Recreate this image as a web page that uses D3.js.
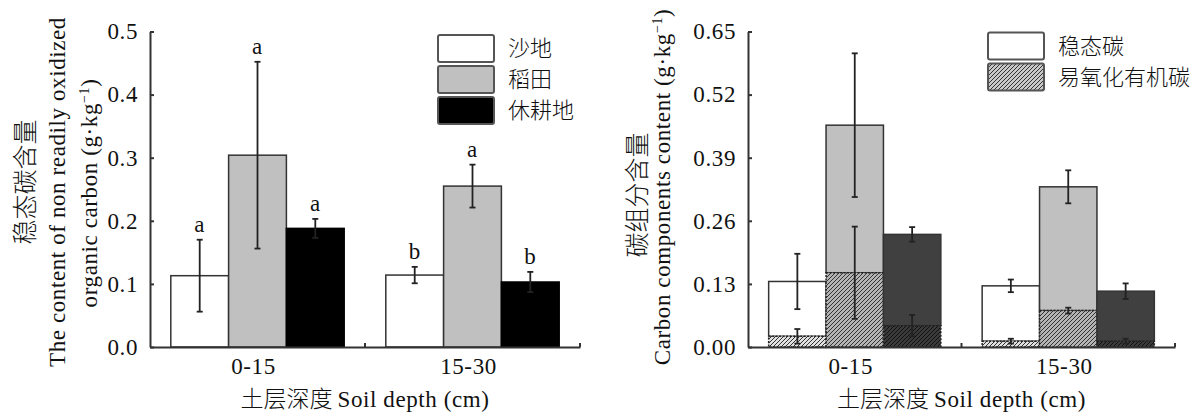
<!DOCTYPE html>
<html>
<head>
<meta charset="utf-8">
<script src="https://cdn.jsdelivr.net/npm/d3@7"></script>
<style>
  body { margin: 0; background: #fff; }
  text { fill: #111; }
  .serif { font-family: "Liberation Serif", "DejaVu Serif", serif; letter-spacing: 0.6px; }
  .cjk { font-family: "Noto Sans CJK SC", sans-serif; font-weight: 300; }
</style>
</head>
<body>
<svg id="chart" width="1202" height="413"></svg>
<script>
// data
const depths = ["0-15", "15-30"];
const landTypes = ["沙地", "稻田", "休耕地"];
const componentNames = ["稳态碳", "易氧化有机碳"];
// 稳态碳 (non readily oxidized organic carbon), [depth][land type]
const stableMean = [[0.113, 0.304, 0.188], [0.114, 0.255, 0.103]];
const stableErr = [[0.057, 0.148, 0.015], [0.013, 0.034, 0.016]];
const stableLetters = [["a", "a", "a"], ["b", "a", "b"]];
// 易氧化有机碳 (readily oxidized organic carbon)
const readilyMean = [[0.022, 0.153, 0.044], [0.012, 0.075, 0.012]];
const readilyErr = [[0.015, 0.095, 0.022], [0.005, 0.006, 0.005]];
const leftTicks = [0, 0.1, 0.2, 0.3, 0.4, 0.5];
const rightTicks = [0, 0.13, 0.26, 0.39, 0.52, 0.65];

const barFill = ["#ffffff", "#c0c0c0", "#000000"];
const barFillRight = ["#ffffff", "#c0c0c0", "#404040"];
const hatchBg = ["#e0e0e0", "#b4b4b4", "#3a3a3a"];
const hatchLine = ["#333", "#333", "#111"];

const svg = d3.select("#chart");

// hatch patterns, one per land type plus legend
const defs = svg.append("defs");
hatchBg.concat(["#c8c8c8"]).forEach((bg, i) => {
  const p = defs.append("pattern")
    .attr("id", "hatch-" + i)
    .attr("patternUnits", "userSpaceOnUse")
    .attr("width", 4).attr("height", 4);
  p.append("rect").attr("width", 4).attr("height", 4).attr("fill", bg);
  p.append("path")
    .attr("d", "M-1,1 l2,-2 M0,4 l4,-4 M3,5 l2,-2")
    .attr("stroke", hatchLine[i] || "#333")
    .attr("stroke-width", 1);
});

function drawPanel(opts) {
  const g = svg.append("g");
  const x = d3.scaleBand().domain(depths).range(opts.xRange);
  const sub = d3.scaleBand().domain(landTypes).range([0, x.bandwidth()]).paddingOuter(0.36);
  const y = d3.scaleLinear().domain([0, opts.yMax]).range([347, 31.5]);

  // y axis
  const yAxis = g.append("g")
    .attr("transform", `translate(${opts.xRange[0]},0)`)
    .call(d3.axisLeft(y).tickValues(opts.ticks).tickFormat(d3.format(opts.fmt))
      .tickSize(-4).tickSizeOuter(0).tickPadding(12));
  yAxis.selectAll("path, line").attr("stroke", "#333").attr("stroke-width", 2);
  yAxis.selectAll("text").attr("class", "serif").style("font-size", "23px").attr("fill", "#111");

  // bars
  depths.forEach((d, di) => {
    landTypes.forEach((t, ti) => {
      const bx = x(d) + sub(t);
      const bw = sub.bandwidth();
      const base = opts.stacked ? readilyMean[di][ti] : 0;
      const top = base + stableMean[di][ti];
      g.append("rect")
        .attr("x", bx).attr("width", bw)
        .attr("y", y(top)).attr("height", y(base) - y(top))
        .attr("fill", opts.fills[ti])
        .attr("stroke", ti === 2 && !opts.stacked ? "#000" : "#333")
        .attr("stroke-width", 1.5);
      if (opts.stacked) {
        g.append("rect")
          .attr("x", bx).attr("width", bw)
          .attr("y", y(base)).attr("height", y(0) - y(base))
          .attr("fill", `url(#hatch-${ti})`)
          .attr("stroke", "#222").attr("stroke-width", 1.5)
          .attr("stroke-dasharray", "2,1.5");
      }
      const bars = [[top, stableErr[di][ti]]];
      if (opts.stacked) bars.push([base, readilyErr[di][ti]]);
      bars.forEach(([m, e]) => {
        const cx = bx + bw / 2;
        const eb = g.append("g").attr("stroke", "#222").attr("stroke-width", 1.8);
        eb.append("line").attr("x1", cx).attr("x2", cx).attr("y1", y(m - e)).attr("y2", y(m + e));
        [m - e, m + e].forEach(v => eb.append("line")
          .attr("x1", cx - 3).attr("x2", cx + 3).attr("y1", y(v)).attr("y2", y(v)));
      });
      if (opts.letters) {
        g.append("text").attr("class", "serif")
          .attr("x", bx + bw / 2).attr("y", y(top + stableErr[di][ti]) - 8)
          .attr("text-anchor", "middle").style("font-size", "23px")
          .text(stableLetters[di][ti]);
      }
    });
  });

  // x axis
  const xAxis = g.append("g")
    .attr("transform", "translate(0,347)")
    .call(d3.axisBottom(x).tickSize(0).tickPadding(11).tickSizeOuter(0));
  xAxis.select("path").attr("stroke", "#333").attr("stroke-width", 2);
  xAxis.selectAll("text").attr("class", "serif").style("font-size", "23px").attr("fill", "#111")
    .attr("dx", "-4px");
  depths.forEach(d => {
    const bx = x(d) + x.bandwidth();
    xAxis.append("line").attr("x1", bx).attr("x2", bx).attr("y1", 0).attr("y2", -4)
      .attr("stroke", "#333").attr("stroke-width", 2);
  });

  const xt = g.append("text").attr("x", d3.mean(opts.xRange)).attr("y", 407)
    .attr("text-anchor", "middle");
  xt.append("tspan").attr("class", "cjk").style("font-size", "23px").text("土层深度 ");
  xt.append("tspan").attr("class", "serif").style("font-size", "23px").text("Soil depth (cm)");

  // y title
  opts.yTitle.forEach(line => {
    const t = g.append("text")
      .attr("transform", `translate(${line.x},${line.cy}) rotate(-90)`)
      .attr("dy", "0.35em").attr("text-anchor", "middle")
      .attr("class", line.cjk ? "cjk" : "serif")
      .style("font-size", line.cjk ? "25px" : "23px");
    if (line.unit) {
      t.append("tspan").text(line.text + " (g·kg");
      t.append("tspan").attr("dy", "-8").style("font-size", "14px").text("−1");
      t.append("tspan").attr("dy", "8").text(")");
    } else {
      t.text(line.text);
    }
  });

  // legend
  const lg = g.append("g");
  opts.legend.items.forEach((item, i) => {
    const ly = opts.legend.y + i * 31;
    lg.append("rect").attr("x", opts.legend.x).attr("y", ly)
      .attr("width", 56).attr("height", 27).attr("rx", 2)
      .attr("fill", item.fill).attr("stroke", "#555").attr("stroke-width", 2);
    lg.append("text").attr("class", "cjk")
      .attr("x", opts.legend.x + 70).attr("y", ly + 13.5).attr("dy", "0.36em")
      .style("font-size", "22px").text(item.label);
  });
}

drawPanel({
  xRange: [150, 580], yMax: 0.5, ticks: leftTicks, fmt: ".1f",
  fills: barFill, stacked: false, letters: true,
  yTitle: [
    { x: 25, cy: 182, text: "稳态碳含量", cjk: true },
    { x: 57, cy: 192, text: "The content of non readily oxidized" },
    { x: 89, cy: 193, text: "organic carbon", unit: true }
  ],
  legend: { x: 438, y: 35, items: landTypes.map((t, i) => ({ label: t, fill: barFill[i] })) }
});

drawPanel({
  xRange: [748, 1175], yMax: 0.65, ticks: rightTicks, fmt: ".2f",
  fills: barFillRight, stacked: true, letters: false,
  yTitle: [
    { x: 637, cy: 195, text: "碳组分含量", cjk: true },
    { x: 662, cy: 187, text: "Carbon components content", unit: true }
  ],
  legend: { x: 988, y: 32.5, items: [
    { label: componentNames[0], fill: "#ffffff" },
    { label: componentNames[1], fill: "url(#hatch-3)" }
  ] }
});
</script>
</body>
</html>
